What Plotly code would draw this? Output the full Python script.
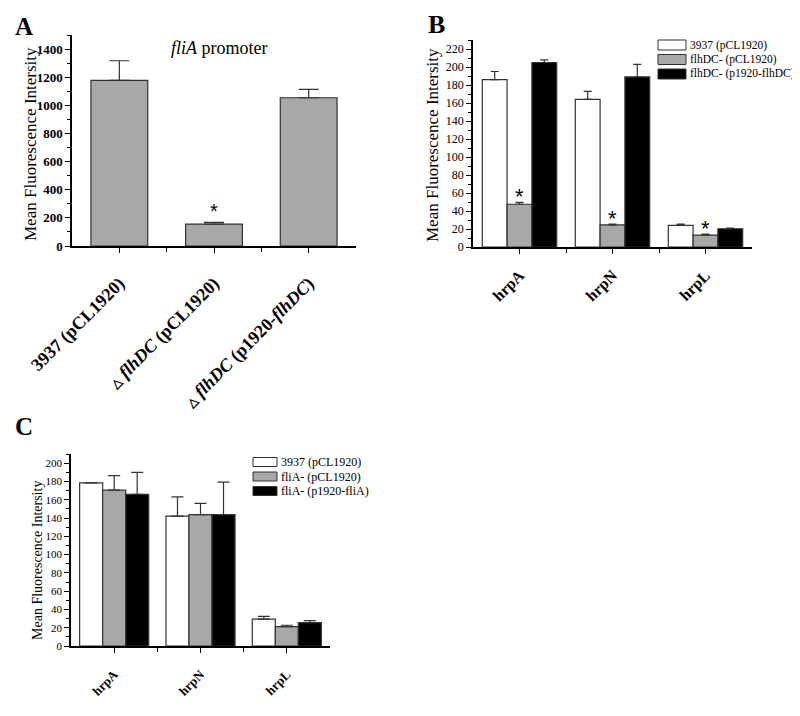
import plotly.graph_objects as go

# page is 800x716; the browser body keeps an 8px margin, so the figure is 792x708
PAGE_W, PAGE_H = 800, 716
OFF = 8
W, H = PAGE_W - OFF, PAGE_H - OFF
SERIF = "Liberation Serif"

# ---------------- data ----------------
# Panel A (fliA promoter)
a_categories = ["3937 (pCL1920)", "ΔflhDC (pCL1920)", "ΔflhDC (p1920-flhDC)"]
a_ticktext = [
    "<b>3937 (pCL1920)</b>",
    "<b><span style='font-size:12px'>△</span> <i>flhDC</i> (pCL1920)</b>",
    "<b><span style='font-size:12px'>△</span> <i>flhDC</i> (p1920-<i>flhDC</i>)</b>",
]
a_values = [1178, 156, 1054]
a_errors = [139, 12, 60]
a_signif = [False, True, False]

# Panel B (flhDC)
b_genes = ["hrpA", "hrpN", "hrpL"]
b_series = ["3937 (pCL1920)", "flhDC- (pCL1920)", "flhDC- (p1920-flhDC)"]
b_wt = [186, 164, 24]
b_wt_err = [9, 9, 1.5]
b_mut = [47.5, 24.5, 13.3]
b_mut_err = [2, 1, 1]
b_comp = [205, 189, 20.3]
b_comp_err = [3, 14, 0.8]
b_signif = [True, True, True]   # on the mutant (grey) bars

# Panel C (fliA)
c_genes = ["hrpA", "hrpN", "hrpL"]
c_series = ["3937 (pCL1920)", "fliA- (pCL1920)", "fliA- (p1920-fliA)"]
c_wt = [178.4, 142, 29.3]
c_wt_err = [0.4, 21, 3]
c_mut = [170.4, 143.7, 21.2]
c_mut_err = [16, 12.3, 1.5]
c_comp = [166, 143.7, 25.6]
c_comp_err = [24, 35.5, 2.2]

series_colors = ["#ffffff", "#a8a8a8", "#000000"]
OUTLINE = "#333333"


def px_x(x):
    return (x - OFF) / W


def px_y(y):
    return (PAGE_H - y) / H


fig = go.Figure()

# ---------------- panel A ----------------
fig.add_trace(go.Bar(
    x=list(range(len(a_categories))), y=a_values, width=0.6,
    marker=dict(color=series_colors[1], line=dict(color=OUTLINE, width=1.2)),
    error_y=dict(type="data", symmetric=False, array=a_errors,
                 arrayminus=[0] * len(a_errors), color=OUTLINE,
                 thickness=1.2, width=10),
    xaxis="x", yaxis="y", showlegend=False, name="fliA promoter",
))


def add_group(vals_list, errs_list, names, xa, ya, capw):
    for i, (vals, errs, nm) in enumerate(zip(vals_list, errs_list, names)):
        fig.add_trace(go.Bar(
            x=list(range(len(vals))), y=vals, name=nm,
            marker=dict(color=series_colors[i], line=dict(color=OUTLINE, width=1.2)),
            error_y=dict(type="data", symmetric=False, array=errs,
                         arrayminus=[0] * len(errs), color=OUTLINE,
                         thickness=1.2, width=capw),
            xaxis=xa, yaxis=ya, showlegend=False,
        ))


add_group([b_wt, b_mut, b_comp], [b_wt_err, b_mut_err, b_comp_err], b_series, "x2", "y2", 4)
add_group([c_wt, c_mut, c_comp], [c_wt_err, c_mut_err, c_comp_err], c_series, "x3", "y3", 6)


def yaxis_cfg(domain_px, rng, dtick, mdtick, tickfont, anchor):
    return dict(
        domain=[px_y(domain_px[1]), px_y(domain_px[0])], range=rng, anchor=anchor,
        automargin=False,
        showline=True, linecolor="black", linewidth=1.5, showgrid=False,
        zeroline=False, ticks="outside", ticklen=5, tickwidth=1.2, tickcolor="black",
        dtick=dtick, tick0=0, tickfont=tickfont,
        minor=dict(dtick=mdtick, tick0=0, ticks="outside", ticklen=3,
                   tickwidth=1, tickcolor="black", showgrid=False),
    )


def xaxis_cfg(domain_px, ticktext, tickfont, anchor, standoff):
    n = len(ticktext)
    return dict(
        domain=[px_x(domain_px[0]), px_x(domain_px[1])], range=[-0.5, n - 0.5],
        anchor=anchor, automargin=False,
        showline=True, linecolor="black", linewidth=1.5,
        showgrid=False, zeroline=False, ticks="outside", ticklen=5, tickwidth=1.2,
        tickcolor="black", tickmode="array", tickvals=list(range(n)),
        ticktext=ticktext, tickangle=-45, tickfont=tickfont,
        ticklabelstandoff=standoff,
        minor=dict(tickmode="array", tickvals=[i + 0.5 for i in range(n - 1)],
                   ticks="outside", ticklen=4, tickwidth=1, tickcolor="black",
                   showgrid=False),
    )


fig.update_layout(
    template="none",
    width=W, height=H, autosize=False,
    margin=dict(l=0, r=0, t=0, b=0, pad=0),
    paper_bgcolor="white", plot_bgcolor="white",
    barmode="group", bargap=0.2, bargroupgap=0,
    font=dict(family=SERIF, color="black"),
    xaxis=xaxis_cfg((72, 356), a_ticktext, dict(family=SERIF, size=18, color="black"), "y", 13),
    yaxis=yaxis_cfg((35, 246), [0, 1500], 200, 100,
                    dict(family=SERIF, size=13, color="black", weight="bold"), "x"),
    xaxis2=xaxis_cfg((473, 752), ["<b>%s</b>" % g for g in b_genes],
                     dict(family=SERIF, size=16, color="black"), "y2", 6),
    yaxis2=yaxis_cfg((40, 247), [0, 230], 20, 10,
                     dict(family=SERIF, size=12, color="black"), "x2"),
    xaxis3=xaxis_cfg((71, 330), ["<b>%s</b>" % g for g in c_genes],
                     dict(family=SERIF, size=13, color="black"), "y3", 9),
    yaxis3=yaxis_cfg((454, 646), [0, 210], 20, 10,
                     dict(family=SERIF, size=11, color="black"), "x3"),
)

ann = []
# panel letters
for txt, x, y, s in [("A", 24, 26, 25), ("B", 437, 25, 26), ("C", 24, 426, 25)]:
    ann.append(dict(text="<b>%s</b>" % txt, x=px_x(x), y=px_y(y), xref="paper", yref="paper",
                    xanchor="center", yanchor="middle", showarrow=False,
                    font=dict(family=SERIF, size=s, color="black")))
# y-axis titles
for x, y, s in [(30, 144, 17), (433, 145, 17), (37, 561, 14)]:
    ann.append(dict(text="Mean Fluorescence Intersity", x=px_x(x), y=px_y(y),
                    xref="paper", yref="paper", textangle=-90, showarrow=False,
                    xanchor="center", yanchor="middle",
                    font=dict(family=SERIF, size=s, color="black")))
# panel A title
ann.append(dict(text="<i>fliA</i> promoter", x=px_x(219), y=px_y(48), xref="paper",
                yref="paper", xanchor="center", yanchor="middle", showarrow=False,
                font=dict(family=SERIF, size=18, color="black")))

# significance asterisks
for i, sig in enumerate(a_signif):
    if sig:
        ann.append(dict(text="*", x=i, y=a_values[i] + a_errors[i], xref="x", yref="y",
                        showarrow=False, xanchor="center", yanchor="middle", yshift=11,
                        font=dict(family="Liberation Sans", size=20, color="black")))
for i, sig in enumerate(b_signif):
    if sig:
        ann.append(dict(text="*", x=i, y=b_mut[i] + b_mut_err[i], xref="x2", yref="y2",
                        showarrow=False, xanchor="center", yanchor="middle", yshift=6,
                        font=dict(family="Liberation Sans", size=22, color="black")))

# legends (drawn as boxes + text)
shapes = []


def draw_legend(names, box_x0, box_x1, row_y0, row_dy, box_h, fsize):
    for i, nm in enumerate(names):
        yc = row_y0 + i * row_dy
        shapes.append(dict(type="rect", xref="paper", yref="paper",
                           x0=px_x(box_x0), x1=px_x(box_x1),
                           y0=px_y(yc + box_h / 2), y1=px_y(yc - box_h / 2),
                           fillcolor=series_colors[i], line=dict(color=OUTLINE, width=1)))
        ann.append(dict(text=nm, x=px_x(box_x1 + 2), y=px_y(yc), xref="paper", yref="paper",
                        xanchor="left", yanchor="middle", showarrow=False,
                        font=dict(family=SERIF, size=fsize, color="black")))


draw_legend(b_series, 658, 686, 45, 14.5, 10, 11.5)
draw_legend(c_series, 253, 277, 462, 14.5, 9, 12)

fig.update_layout(annotations=ann, shapes=shapes)
fig.write_html("out.html")
